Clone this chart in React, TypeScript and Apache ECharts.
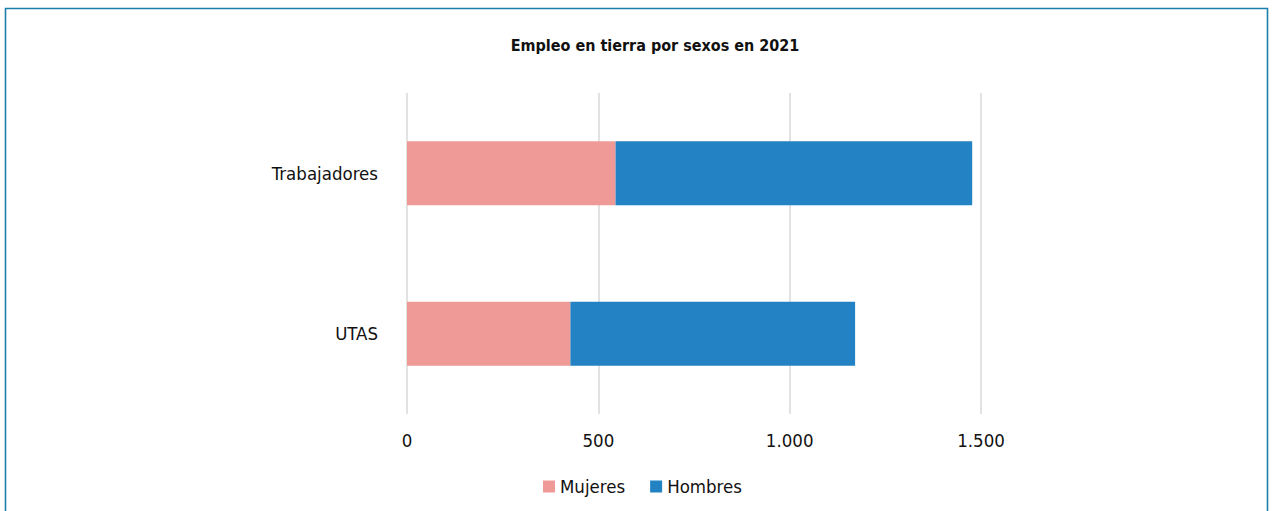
import React, { useEffect, useRef } from "react";
import * as echarts from "echarts";

const categories = ["UTAS", "Trabajadores"];
const mujeres = [427, 545];
const hombres = [744, 932];
const xTicks = [0, 500, 1000, 1500];
const title = "Empleo en tierra por sexos en 2021";

const FONT = "'Liberation Sans Narrow', 'DejaVu Sans Condensed', 'Roboto', sans-serif";

function fmt(v: number): string {
  return String(v).replace(/\B(?=(\d{3})+(?!\d))/g, ".");
}

export default function App() {
  const ref = useRef<HTMLDivElement>(null);
  useEffect(() => {
    document.body.style.margin = "0";
    if (!ref.current) return;
    const chart = echarts.init(ref.current, undefined, { renderer: "svg" });
    chart.setOption({
      animation: false,
      backgroundColor: "#ffffff",
      title: {
        text: title,
        left: 650,
        textAlign: "center",
        top: 32,
        textStyle: { fontFamily: FONT, fontSize: 16, fontWeight: "bold", color: "#111" },
      },
      graphic: [
        {
          type: "rect",
          shape: { x: 5.5, y: 8.5, width: 1262, height: 520 },
          style: { fill: "none", stroke: "#1b7fab", lineWidth: 1.6 },
          silent: true,
          z: 100,
        },
      ],
      legend: {
        data: ["Mujeres", "Hombres"],
        left: 538,
        top: 472,
        itemWidth: 12,
        itemHeight: 12,
        itemGap: 25,
        icon: "rect",
        textStyle: { fontFamily: FONT, fontSize: 18.5, color: "#111" },
      },
      grid: { left: 407, right: 1273 - 981, top: 93, bottom: 511 - 414, containLabel: false },
      xAxis: {
        type: "value",
        min: xTicks[0],
        max: xTicks[xTicks.length - 1],
        interval: 500,
        axisLine: { show: false },
        axisTick: { show: false },
        splitLine: { show: true, lineStyle: { color: "#d9d9d9", width: 1.5 } },
        axisLabel: {
          margin: 17,
          fontFamily: FONT,
          fontSize: 18.5,
          color: "#111",
          formatter: (v: number) => fmt(v),
        },
      },
      yAxis: {
        type: "category",
        data: categories,
        axisLine: { show: false },
        axisTick: { show: false },
        axisLabel: { margin: 29, fontFamily: FONT, fontSize: 18.5, color: "#111" },
      },
      series: [
        {
          name: "Mujeres",
          type: "bar",
          stack: "total",
          data: mujeres,
          barWidth: 64,
          itemStyle: { color: "#f09a97" },
        },
        {
          name: "Hombres",
          type: "bar",
          stack: "total",
          data: hombres,
          barWidth: 64,
          itemStyle: { color: "#2382c3" },
        },
      ],
    });
    return () => chart.dispose();
  }, []);
  return <div ref={ref} style={{ width: 1273, height: 511 }} />;
}
